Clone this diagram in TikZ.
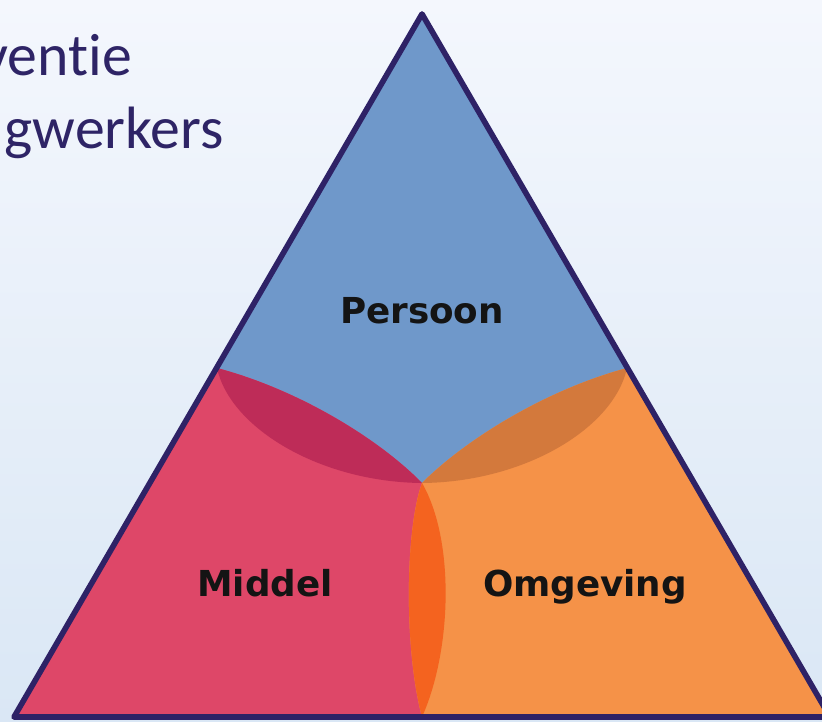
\documentclass[tikz,border=0pt]{standalone}
\usepackage{fontspec}
\newfontfamily\lblfont{DejaVu Sans}
\newfontfamily\titlefont[Ligatures=NoCommon]{Carlito}
\definecolor{bgtop}{RGB}{244,247,253}
\definecolor{bgbot}{RGB}{218,231,245}
\definecolor{persblue}{RGB}{111,152,202}
\definecolor{midpink}{RGB}{222,71,104}
\definecolor{omgorange}{RGB}{245,146,72}
\definecolor{lensred}{RGB}{190,44,88}
\definecolor{lensbrown}{RGB}{211,121,60}
\definecolor{lensorange}{RGB}{244,99,31}
\definecolor{outline}{RGB}{46,34,102}
\definecolor{titlecol}{RGB}{46,36,102}
\tikzset{
  lbl/.style={inner sep=0pt, anchor=base, text=black!92, font=\lblfont\bfseries\fontsize{30.5}{36}\selectfont},
  ttl/.style={inner sep=0pt, anchor=base east, text=titlecol, font=\titlefont\fontsize{51}{60}\selectfont},
  triline/.style={draw=outline, line width=4.8pt, line join=round}
}
\begin{document}
\begin{tikzpicture}[x=0.03cm, y=-0.03cm]
\clip (0,0) rectangle (822,721);
\useasboundingbox (0,0) rectangle (822,721);
\shade[top color=bgtop, bottom color=bgbot] (0,0) rectangle (822,721);
% key points
\coordinate (A) at (422,14);
\coordinate (L) at (14,717);
\coordinate (R) at (830,717);
\coordinate (P1) at (217,368);
\coordinate (P2) at (627,368);
\coordinate (C) at (422,483);
\coordinate (B) at (422,717);
\begin{scope}
  \clip (A) -- (L) -- (R) -- cycle;
  \fill[persblue] (A) -- (L) -- (R) -- cycle;
  % pink region
  \fill[midpink] (P1) .. controls (300,390) and (380,440) .. (C)
     .. controls (455,540) and (452,650) .. (B) -- (422,760) -- (0,760) -- (0,368) -- cycle;
  % orange region
  \fill[omgorange] (P2) .. controls (545,390) and (465,440) .. (C)
     .. controls (405,530) and (404,650) .. (B) -- (422,760) -- (900,760) -- (900,368) -- cycle;
  % overlap lenses
  \fill[lensred] (P1) .. controls (300,390) and (380,440) .. (C)
     .. controls (320,482) and (230,428) .. (P1) -- cycle;
  \fill[lensbrown] (P2) .. controls (545,390) and (465,440) .. (C)
     .. controls (525,482) and (614,428) .. (P2) -- cycle;
  \fill[lensorange] (C) .. controls (405,530) and (404,650) .. (B)
     .. controls (452,650) and (455,540) .. (C) -- cycle;
\end{scope}
\draw[triline] (A) -- (L) -- (R) -- cycle;
% labels
\node[lbl] (persoon) at (422,323) {Persoon};
\node[lbl] (middel) at (265,596) {Middel};
\node[lbl] (omgeving) at (585,596) {Omgeving};
\node[ttl] (t1) at (132,75) {ventie};
\node[ttl] (t2) at (224,148) {gwerkers};
\end{tikzpicture}
\end{document}
